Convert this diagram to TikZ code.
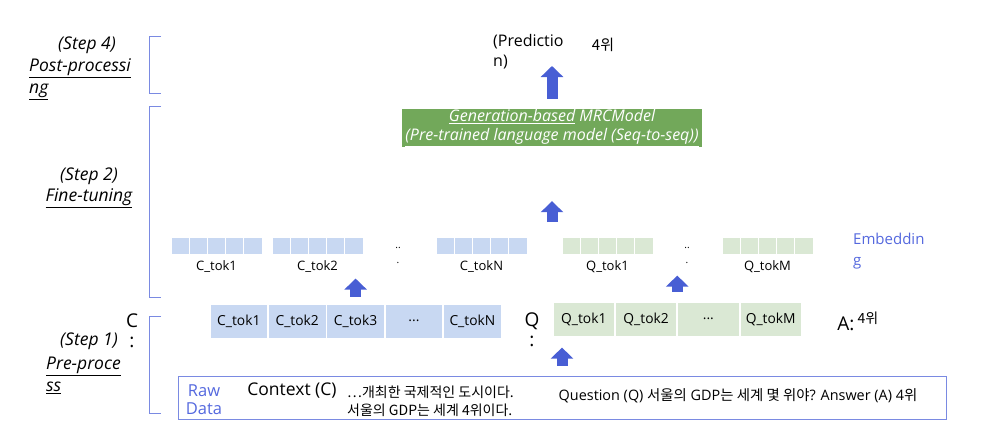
\documentclass[tikz,border=0pt]{standalone}
\usepackage{fontspec}
\setmainfont{Open Sans}
\newfontfamily\kr{Noto Sans CJK KR}
\usepackage{xcolor}
\usepackage{tikz}
\usetikzlibrary{positioning,arrows.meta}

\definecolor{stepblue}{RGB}{122,138,226}
\definecolor{arrowblue}{RGB}{72,94,212}
\definecolor{cfill}{RGB}{200,216,242}
\definecolor{qfill}{RGB}{218,232,212}
\definecolor{modelgreen}{RGB}{114,168,90}
\definecolor{embblue}{RGB}{84,104,222}

\begin{document}
\begin{tikzpicture}[
		x=1pt, y=-1pt,
		bracket/.style={draw=stepblue, line width=1pt},
		steplabel/.style={
			inner sep=0pt,
			align=left,
			font=\fontsize{17.5}{22}\selectfont\itshape
		},
		plainlabel/.style={inner sep=0pt, align=center, font=\fontsize{19}{20}\selectfont},
		modelbox/.style={
			fill=modelgreen,
			text=white,
			inner sep=0pt,
			align=center,
			minimum width=300pt,
			minimum height=38pt,
			font=\fontsize{16}{19.5}\selectfont\itshape
		},
		embcell/.style={
			draw=white,
			line width=0.8pt,
			inner sep=0pt,
			minimum width=18.2pt,
			minimum height=17pt
		},
		tokcell/.style={
			draw=white,
			line width=0.8pt,
			inner sep=0pt,
			minimum height=34pt,
			font=\fontsize{13.8}{16}\selectfont
		},
		toklabel/.style={inner sep=0pt, font=\fontsize{13}{15}\selectfont},
		dotslabel/.style={inner sep=0pt, align=center, font=\fontsize{10}{15}\selectfont},
		rawbox/.style={
			draw=stepblue,
			line width=0.8pt,
			minimum width=768pt,
			minimum height=43pt
		},
		blockarrow/.style={draw=arrowblue, line width=11pt, -{Triangle[width=22pt,length=11pt]}}
	]
		\path[use as bounding box] (0,0) rectangle (996,442);

		% step labels and brackets
		\node[steplabel] (stepfour) at (87,45) {(Step 4)};
		\node[steplabel, anchor=west] (postproc) at (29,79) {\underline{Post-processi}\\\underline{ng}};
		\node[steplabel] (steptwo) at (89,176) {(Step 2)};
		\node[steplabel] (finetune) at (89,198) {\underline{Fine-tuning}};
		\node[steplabel] (stepone) at (89,341) {(Step 1)};
		\node[steplabel, anchor=west] (preproc) at (46,375) {\underline{Pre-proce}\\\underline{ss}};

		\draw[bracket] (161,36) -| (149,93) -- (161,93);
		\draw[bracket] (161,106) -| (149,297) -- (161,297);
		\draw[bracket] (161,316) -| (149,413) -- (161,413);

		% step 4
		\node[inner sep=0pt, anchor=west, align=left, font=\fontsize{16}{20}\selectfont] (pred) at (493,52) {(Predictio\\n)};
		\node[inner sep=0pt, font=\kr\fontsize{15}{17}\selectfont] (predval) at (603,45) {4위};
		\coordinate (predtip) at (552,66);

		% step 2
		\node[modelbox] (model) at (552,128) {
			\underline{Generation-based} MRCModel\\
			\underline{(Pre-trained language model (Seq-to-seq))}
		};

		\foreach \sx/\lbl/\col [count=\i] in {171/C\_tok1/cfill, 272/C\_tok2/cfill, 436/C\_tokN/cfill, 562/Q\_tok1/qfill, 722/Q\_tokM/qfill}{
			\foreach \k in {0,...,4}
				\node[embcell, fill=\col] (emb\i-\k) at (\sx+\k*18.2+9.1, 245.5) {};
			\node[toklabel] (emblbl\i) at (\sx+45.5, 267) {\lbl};
		}
		\node[dotslabel] (cdots) at (398,255) {..\\.};
		\node[dotslabel] (qdots) at (687,255) {..\\.};
		\node[inner sep=0pt, anchor=west, align=left, text=embblue, font=\fontsize{15}{21}\selectfont] (embname) at (853,251) {Embeddin\\g};
		\coordinate (embtop) at (552,222);

		% step 1
		\node[plainlabel] (cname) at (132,331) {C\\:};
		\node[tokcell, fill=cfill, minimum width=57.6pt] (c1) at (238.8,321) {C\_tok1};
		\node[tokcell, fill=cfill, minimum width=57.6pt, right=0pt of c1] (c2) {C\_tok2};
		\node[tokcell, fill=cfill, minimum width=57.6pt, right=0pt of c2] (c3) {C\_tok3};
		\node[tokcell, fill=cfill, minimum width=57.6pt, right=0pt of c3] (c4) {...};
		\node[tokcell, fill=cfill, minimum width=57.6pt, right=0pt of c4] (c5) {C\_tokN};

		\node[plainlabel] (qname) at (532,330) {Q\\:};
		\node[tokcell, fill=qfill, minimum width=61.5pt] (q1) at (583.8,319) {Q\_tok1};
		\node[tokcell, fill=qfill, minimum width=61.5pt, right=0pt of q1] (q2) {Q\_tok2};
		\node[tokcell, fill=qfill, minimum width=61.5pt, right=0pt of q2] (q3) {...};
		\node[tokcell, fill=qfill, minimum width=61.5pt, right=0pt of q3] (q4) {Q\_tokM};

		\node[plainlabel] (aname) at (846,324) {A:};
		\node[inner sep=0pt, font=\kr\fontsize{14}{16}\selectfont] (aval) at (868,318) {4위};

		\node[rawbox] (raw) at (562,397.5) {};
		\node[inner sep=0pt, align=center, text=embblue, font=\fontsize{16.5}{18}\selectfont] (rawname) at (204,400) {Raw\\Data};
		\node[inner sep=0pt, font=\fontsize{17.5}{20}\selectfont] (ctxname) at (292,391) {Context (C)};
		\node[inner sep=0pt, anchor=west, align=left, font=\kr\fontsize{14}{18}\selectfont] (ctxtext) at (347,401) {…개최한 국제적인 도시이다.\\서울의 GDP는 세계 4위이다.};
		\node[inner sep=0pt, font=\fontsize{14.4}{17}\selectfont] (qatext) at (738,396) {Question (Q) {\kr 서울의} GDP{\kr 는 세계 몇 위야}? Answer (A) 4{\kr 위}};

		% arrows
		\draw[blockarrow, shorten <=10pt] (model.north) -- (predtip);
		\draw[blockarrow, shorten >=54pt] (embtop) -- (model.south);
		\draw[blockarrow, shorten <=7pt] (c3.north) -- ++(0,-25);
		\draw[blockarrow, shorten <=10pt] (q2.north east) -- ++(0,-26);
		\draw[blockarrow, shorten <=10pt] (raw.north) -- ++(0,-28);
	\end{tikzpicture}
\end{document}
